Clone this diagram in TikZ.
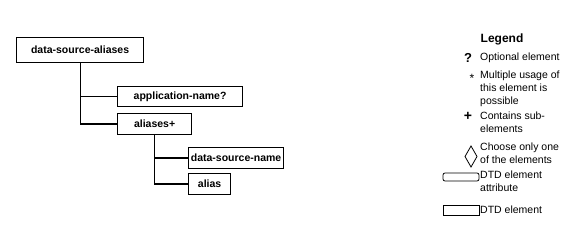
\documentclass[tikz,border=0pt]{standalone}
\usepackage{fontspec}
\setmainfont{Liberation Sans}
\begin{document}
\begin{tikzpicture}[x=1pt,y=-1pt,
  elem/.style={draw=black, line width=1.2pt, anchor=north west, inner sep=0pt, font=\fontsize{10.5}{12}\selectfont\bfseries},
  wire/.style={draw=black, line width=1.2pt},
  legtext/.style={anchor=north west, inner sep=0pt, align=left, font=\fontsize{10.5}{13}\selectfont},
  legsym/.style={inner sep=0pt, font=\fontsize{12}{12}\selectfont\bfseries}]
\useasboundingbox (0,0) rectangle (576,227);
% tree
\node[elem, minimum width=127pt, minimum height=25pt] (dsa) at (16,37) {data-source-aliases};
\node[elem, minimum width=125pt, minimum height=20pt] (appname) at (117,86) {application-name?};
\node[elem, minimum width=74pt, minimum height=21pt] (aliases) at (117,113) {aliases+};
\node[elem, minimum width=95pt, minimum height=21pt] (dsname) at (188,147) {data-source-name};
\node[elem, minimum width=42pt, minimum height=21pt] (alias) at (188,173) {alias};
\draw[wire] (dsa.south) |- (appname.west);
\draw[wire] (dsa.south) |- (aliases.west);
\draw[wire] (aliases.south) |- (dsname.west);
\draw[wire] (aliases.south) |- (alias.west);
% legend
\node[font=\fontsize{12}{12}\selectfont\bfseries, inner sep=0pt] (legend) at (502,39) {Legend};
\node[legsym, font=\fontsize{13}{13}\selectfont\bfseries] (qmark) at (468,58) {?};
\node[legtext] (optional) at (480,53) {Optional element};
\node[legsym, font=\fontsize{12}{12}\selectfont] (star) at (472,78) {*};
\node[legtext] (multiple) at (480,71) {Multiple usage of\\this element is\\possible};
\node[legsym, font=\fontsize{14}{14}\selectfont\bfseries] (plus) at (468,116) {+};
\node[legtext] (contains) at (480,112) {Contains sub-\\elements};
\draw[line width=0.8pt] (471,146) -- (477,156.5) -- (471,167) -- (465,156.5) -- cycle;
\node[legtext] (choose) at (480,143) {Choose only one\\of the elements};
\draw[line width=0.8pt, rounded corners=2pt] (443,173) rectangle (479,181);
\node[legtext] (attrib) at (480,171) {DTD element\\attribute};
\draw[line width=0.8pt] (443,205) rectangle (479,215);
\node[legtext] (dtdelem) at (480,206) {DTD element};
\end{tikzpicture}
\end{document}
